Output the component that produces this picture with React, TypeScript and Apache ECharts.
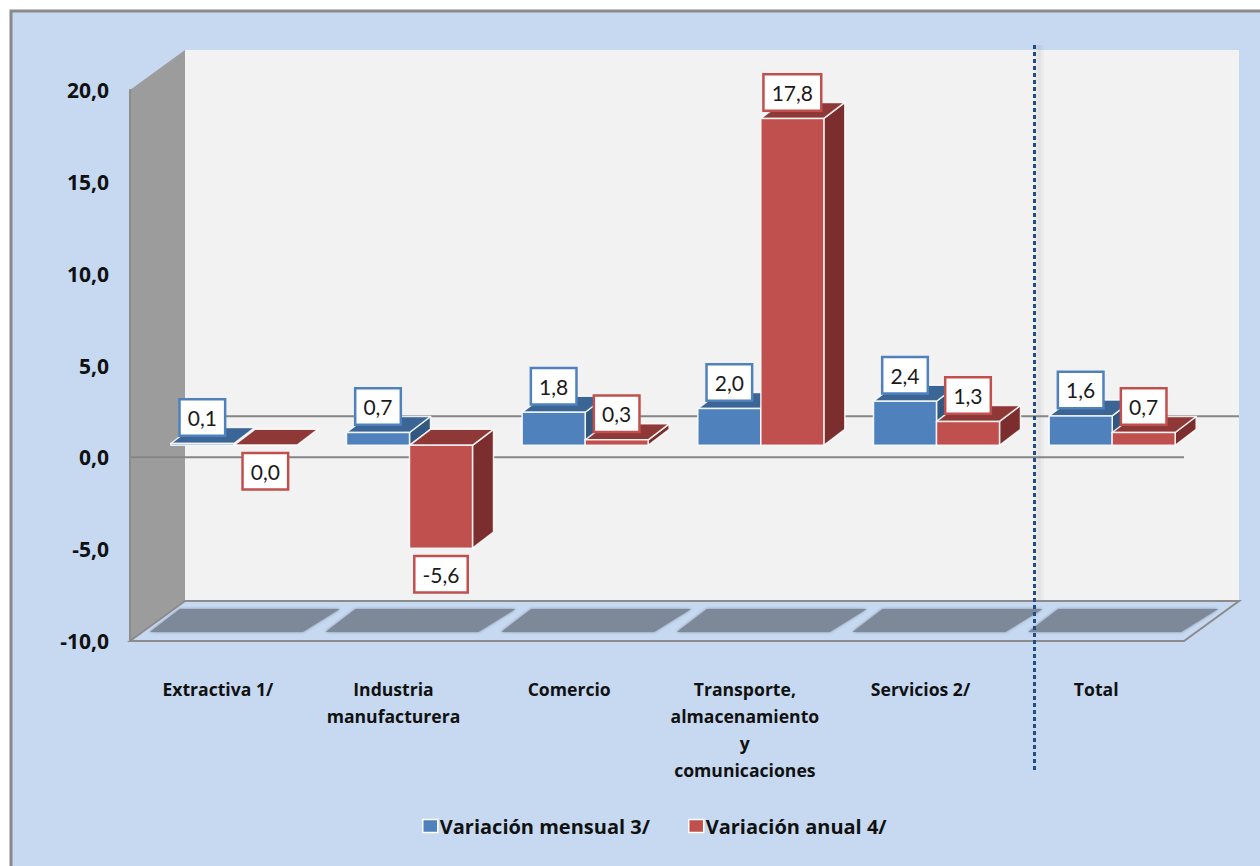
import React, { useEffect, useRef } from "react";
import * as echarts from "echarts";

const categories = [
  "Extractiva 1/",
  "Industria\nmanufacturera",
  "Comercio",
  "Transporte,\nalmacenamiento\ny\ncomunicaciones",
  "Servicios 2/",
  "Total",
];
const monthlyName = "Variación mensual 3/";
const annualName = "Variación anual 4/";
const monthlyValues = [0.1, 0.7, 1.8, 2.0, 2.4, 1.6];
const annualValues = [0.0, -5.6, 0.3, 17.8, 1.3, 0.7];
const yTicks = { min: -10, max: 20, interval: 5 };

const FONT = "Lato, Carlito, 'Open Sans', sans-serif";
const BOLD = "'Open Sans', Lato, sans-serif";
const BG = "#c6d9f1";
const AXIS = "#8c8c8c";

// projection constants of the pseudo-3D scene
const WALL = { dx: 55, dy: -40 };
const BAR_SHIFT = { dx: 16, dy: -12 };
const BAR_DEPTH = { dx: 21, dy: -16 };
const BAR_W = 63;

const pts = (...p: number[][]) => ({ points: p });

function wallsItem(params: any, api: any) {
  const c = params.coordSys;
  const l = c.x, r = c.x + c.width, t = c.y, b = c.y + c.height;
  const zero = api.coord([0, 0])[1];
  const { dx, dy } = WALL;
  return {
    type: "group",
    children: [
      { type: "polygon", shape: pts([l + dx, t + dy], [r + dx, t + dy], [r + dx, b + dy], [l + dx, b + dy]), style: { fill: "#f2f2f2" } },
      { type: "polygon", shape: pts([l, t], [l + dx, t + dy], [l + dx, b + dy], [l, b]), style: { fill: "#9c9c9c" } },
      { type: "polygon", shape: pts([l, b], [l + dx, b + dy], [r + dx, b + dy], [r, b]), style: { fill: BG, stroke: AXIS, lineWidth: 2 } },
      { type: "line", shape: { x1: l, y1: zero, x2: r, y2: zero }, style: { stroke: "#868686", lineWidth: 2 } },
      { type: "line", shape: { x1: l + dx, y1: zero - 41, x2: r + dx, y2: zero - 41 }, style: { stroke: "#868686", lineWidth: 2 } },
    ],
  };
}

function floorItem(params: any, api: any) {
  const c = params.coordSys;
  const cx = api.coord([api.value(0), 0])[0];
  const bottom = c.y + c.height;
  const color = "#7d8899";
  return {
    type: "polygon",
    shape: pts(
      [cx - 68, bottom - 9],
      [cx - 38, bottom - 32],
      [cx + 122, bottom - 32],
      [cx + 85, bottom - 9]
    ),
    style: { fill: color, shadowBlur: 3, shadowColor: color },
  };
}

const barItem = (side: number, front: string, top: string, dark: string) => (_: any, api: any) => {
  const [cx, yv] = api.coord([api.value(0), api.value(1)]);
  const y0 = api.coord([api.value(0), 0])[1];
  const x1 = cx + BAR_SHIFT.dx + (side < 0 ? -BAR_W : 0);
  const x2 = x1 + BAR_W;
  const yTop = Math.min(yv, y0) + BAR_SHIFT.dy;
  const yBot = Math.max(yv, y0) + BAR_SHIFT.dy;
  const { dx, dy } = BAR_DEPTH;
  const edge = { stroke: "rgba(255,255,255,0.85)", lineWidth: 1.5, lineJoin: "round" };
  return {
    type: "group",
    children: [
      { type: "polygon", shape: pts([x2, yTop], [x2 + dx, yTop + dy], [x2 + dx, yBot + dy], [x2, yBot]), style: { fill: dark, ...edge } },
      { type: "polygon", shape: pts([x1, yTop], [x2, yTop], [x2 + dx, yTop + dy], [x1 + dx, yTop + dy]), style: { fill: top, ...edge } },
      { type: "polygon", shape: pts([x1, yTop], [x2, yTop], [x2, yBot], [x1, yBot]), style: { fill: front, ...edge } },
    ],
  };
};

const labelItem = (side: number, border: string) => (_: any, api: any) => {
  const v = api.value(1);
  const [cx, yv] = api.coord([api.value(0), v]);
  const x = cx + BAR_SHIFT.dx + (side * BAR_W) / 2;
  const y = yv + BAR_SHIFT.dy + (v > 0 ? -26 : 26);
  return {
    type: "text",
    style: {
      x,
      y,
      text: v.toFixed(1).replace(".", ","),
      font: `400 21px ${FONT}`,
      fill: "#1a1a1a",
      align: "center",
      verticalAlign: "middle",
      backgroundColor: "#ffffff",
      borderColor: border,
      borderWidth: 2.5,
      padding: [5, 7, 5, 7],
      lineHeight: 24,
    },
  };
};

const rows = (vals: number[]) => vals.map((v, i) => [i, v]);

export default function App() {
  const ref = useRef<HTMLDivElement>(null);
  useEffect(() => {
    document.body.style.margin = "0";
    const chart = echarts.init(ref.current!, null, { renderer: "svg" });
    const blue = "#4f81bd";
    const red = "#c0504d";
    const common = { type: "custom", coordinateSystem: "cartesian2d", encode: { x: 0, y: 1 }, silent: true };
    chart.setOption({
      animation: false,
      backgroundColor: "#ffffff",
      textStyle: { fontFamily: FONT },
      grid: { left: 130, right: 76, top: 90, height: 551, containLabel: false },
      xAxis: {
        type: "category",
        data: categories,
        z: 3,
        axisLine: { onZero: false, lineStyle: { color: AXIS, width: 2 } },
        axisTick: { show: false },
        axisLabel: {
          interval: 0,
          margin: 34,
          color: "#111111",
          fontFamily: BOLD,
          fontWeight: 700,
          fontSize: 17.6,
          lineHeight: 27,
          verticalAlign: "top",
        },
      },
      yAxis: {
        type: "value",
        min: yTicks.min,
        max: yTicks.max,
        interval: yTicks.interval,
        z: 3,
        splitLine: { show: false },
        axisTick: { show: false },
        axisLine: { show: true, lineStyle: { color: AXIS, width: 2 } },
        axisLabel: {
          margin: 21,
          color: "#111111",
          fontFamily: BOLD,
          fontWeight: 700,
          fontSize: 21,
          padding: [2, 0, 0, 0],
          formatter: (v: number) => v.toFixed(1).replace(".", ","),
        },
      },
      legend: {
        left: 417,
        top: 811,
        itemGap: 38,
        itemWidth: 15,
        itemHeight: 13,
        icon: "rect",
        data: [monthlyName, annualName],
        itemStyle: { borderColor: "#ffffff", borderWidth: 1.5 },
        textStyle: { color: "#111111", fontFamily: BOLD, fontWeight: 700, fontSize: 20, padding: [0, 0, 0, -3] },
      },
      graphic: {
        elements: [
          { type: "rect", z: -1, shape: { x: 11, y: 11, width: 1300, height: 900 }, style: { fill: BG, stroke: "#8a8a8a", lineWidth: 3 } },
          { type: "line", z: 20, shape: { x1: 1038, y1: 45, x2: 1038, y2: 600 }, style: { stroke: "rgba(110,110,110,0.08)", lineWidth: 6 } },
          { type: "line", z: 20, shape: { x1: 1041, y1: 45, x2: 1041, y2: 600 }, style: { stroke: "rgba(110,110,110,0.05)", lineWidth: 6 } },
          { type: "line", z: 21, shape: { x1: 1034.5, y1: 45, x2: 1034.5, y2: 771 }, style: { stroke: "#1f4e87", lineWidth: 3, lineDash: [4, 3] } },
        ],
      },
      series: [
        { ...common, name: "walls", z: 1, data: [[0, 0]], renderItem: wallsItem },
        { ...common, name: "floor", z: 1.5, data: rows(monthlyValues), renderItem: floorItem },
        { ...common, name: monthlyName, z: 2, itemStyle: { color: blue }, data: rows(monthlyValues), renderItem: barItem(-1, blue, "#3b6595", "#33587f") },
        { ...common, name: annualName, z: 2.5, itemStyle: { color: red }, data: rows(annualValues), renderItem: barItem(1, red, "#8e3937", "#7b2e2d") },
        { ...common, name: "labels-m", z: 4, data: rows(monthlyValues), renderItem: labelItem(-1, blue) },
        { ...common, name: "labels-a", z: 5, data: rows(annualValues), renderItem: labelItem(1, red) },
      ],
    });
    return () => chart.dispose();
  }, []);
  return <div ref={ref} style={{ position: "absolute", left: 0, top: 0, width: 1260, height: 866 }} />;
}
